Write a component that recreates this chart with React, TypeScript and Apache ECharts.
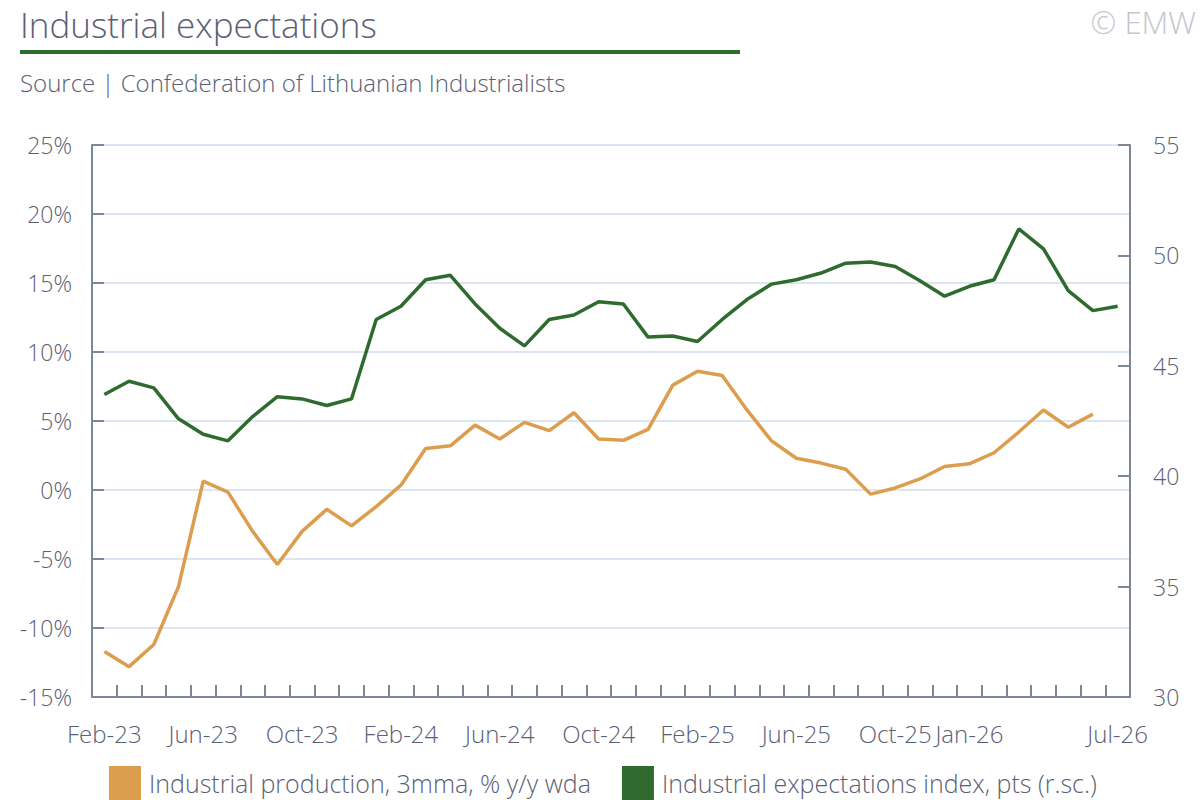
import React, { useEffect, useRef } from "react";
import * as echarts from "echarts";

const months = [
  "Feb-23","Mar-23","Apr-23","May-23","Jun-23","Jul-23","Aug-23","Sep-23","Oct-23","Nov-23","Dec-23",
  "Jan-24","Feb-24","Mar-24","Apr-24","May-24","Jun-24","Jul-24","Aug-24","Sep-24","Oct-24","Nov-24","Dec-24",
  "Jan-25","Feb-25","Mar-25","Apr-25","May-25","Jun-25","Jul-25","Aug-25","Sep-25","Oct-25","Nov-25","Dec-25",
  "Jan-26","Feb-26","Mar-26","Apr-26","May-26","Jun-26","Jul-26",
];

const shownLabels = ["Feb-23","Jun-23","Oct-23","Feb-24","Jun-24","Oct-24","Feb-25","Jun-25","Oct-25","Jan-26","Jul-26"];

const production = [
  -11.7, -12.8, -11.2, -7.0, 0.65, -0.15, -3.0, -5.4, -3.0, -1.4, -2.6,
  -1.2, 0.35, 3.0, 3.2, 4.7, 3.7, 4.9, 4.3, 5.6, 3.7, 3.6, 4.4,
  7.6, 8.6, 8.3, 5.8, 3.55, 2.3, 1.95, 1.5, -0.3, 0.15, 0.8, 1.7,
  1.9, 2.7, 4.2, 5.8, 4.55, 5.5, null,
];

const expectations = [
  43.7, 44.3, 44.0, 42.6, 41.9, 41.6, 42.7, 43.6, 43.5, 43.2, 43.5,
  47.1, 47.7, 48.9, 49.1, 47.8, 46.7, 45.9, 47.1, 47.3, 47.9, 47.8, 46.3,
  46.35, 46.1, 47.1, 48.0, 48.7, 48.9, 49.2, 49.65, 49.7, 49.5, 48.85, 48.15,
  48.6, 48.9, 51.2, 50.3, 48.4, 47.5, 47.7,
];

const leftTicks = { min: -15, max: 25, interval: 5 };
const rightTicks = { min: 30, max: 55, interval: 5 };

const FONT = "'Open Sans', Lato, sans-serif";
const TEXT = "#5b6075";
const AXIS = "#7e879a";
const ORANGE = "#dc9d4f";
const GREEN = "#2f6b2e";

export default function App() {
  const ref = useRef<HTMLDivElement>(null);
  useEffect(() => {
    if (!ref.current) return;
    const chart = echarts.init(ref.current, null, { renderer: "svg" });
    chart.setOption({
      animation: false,
      backgroundColor: "#ffffff",
      textStyle: { fontFamily: FONT },
      graphic: [
        { type: "text", x: 20, y: 24, style: { text: "Industrial expectations", font: `300 35px ${FONT}`, fill: TEXT, verticalAlign: "middle" } },
        { type: "rect", shape: { x: 20, y: 50, width: 720, height: 4 }, style: { fill: GREEN } },
        { type: "text", x: 20, y: 82, style: { text: "Source | Confederation of Lithuanian Industrialists", font: `300 24px ${FONT}`, fill: TEXT, verticalAlign: "middle" } },
        { type: "text", x: 1196, y: 22, style: { text: "© EMW", font: `300 31px ${FONT}`, fill: "#c3c6cf", align: "right", verticalAlign: "middle" } },
      ],
      legend: {
        left: 109,
        top: 766,
        padding: 0,
        itemWidth: 32,
        itemHeight: 34,
        itemGap: 31,
        icon: "rect",
        textStyle: { fontSize: 25, color: TEXT, fontFamily: FONT, fontWeight: 300, padding: [0, 0, 0, 3] },
        data: [
          { name: "Industrial production, 3mma, % y/y wda", itemStyle: { color: ORANGE } },
          { name: "Industrial expectations index, pts (r.sc.)", itemStyle: { color: GREEN } },
        ],
      },
      grid: { left: 92, right: 70, top: 145, bottom: 103, containLabel: false },
      xAxis: {
        type: "category",
        data: months,
        boundaryGap: true,
        axisLine: { onZero: false, lineStyle: { color: AXIS, width: 2 } },
        axisTick: { show: true, inside: true, length: 12, interval: 0, lineStyle: { color: AXIS, width: 2 } },
        axisLabel: {
          interval: (idx: number, val: string) => shownLabels.includes(val),
          color: TEXT,
          fontSize: 24,
          fontFamily: FONT,
          fontWeight: 300,
          margin: 24,
        },
        splitLine: { show: false },
      },
      yAxis: [
        {
          type: "value",
          min: leftTicks.min,
          max: leftTicks.max,
          interval: leftTicks.interval,
          axisLine: { show: true, lineStyle: { color: AXIS, width: 2 } },
          axisTick: { show: true, inside: true, length: 12, lineStyle: { color: AXIS, width: 2 } },
          axisLabel: { formatter: "{value}%", color: TEXT, fontSize: 23, fontFamily: FONT, fontWeight: 300, margin: 20 },
          splitLine: { show: true, lineStyle: { color: "#dce6f1", width: 2 } },
        },
        {
          type: "value",
          min: rightTicks.min,
          max: rightTicks.max,
          interval: rightTicks.interval,
          position: "right",
          axisLine: { show: true, lineStyle: { color: AXIS, width: 2 } },
          axisTick: { show: true, inside: true, length: 12, lineStyle: { color: AXIS, width: 2 } },
          axisLabel: { color: TEXT, fontSize: 23, fontFamily: FONT, fontWeight: 300, margin: 23 },
          splitLine: { show: false },
        },
      ],
      series: [
        {
          name: "Industrial production, 3mma, % y/y wda",
          type: "line",
          yAxisIndex: 0,
          data: production,
          showSymbol: false,
          symbol: "none",
          lineStyle: { color: ORANGE, width: 3.5 },
          itemStyle: { color: ORANGE },
          z: 2,
        },
        {
          name: "Industrial expectations index, pts (r.sc.)",
          type: "line",
          yAxisIndex: 1,
          data: expectations,
          showSymbol: false,
          symbol: "none",
          lineStyle: { color: GREEN, width: 3.5 },
          itemStyle: { color: GREEN },
          z: 3,
        },
      ],
    });
    return () => chart.dispose();
  }, []);
  return <div ref={ref} style={{ width: 1200, height: 800, position: "absolute", left: 0, top: 0 }} />;
}
